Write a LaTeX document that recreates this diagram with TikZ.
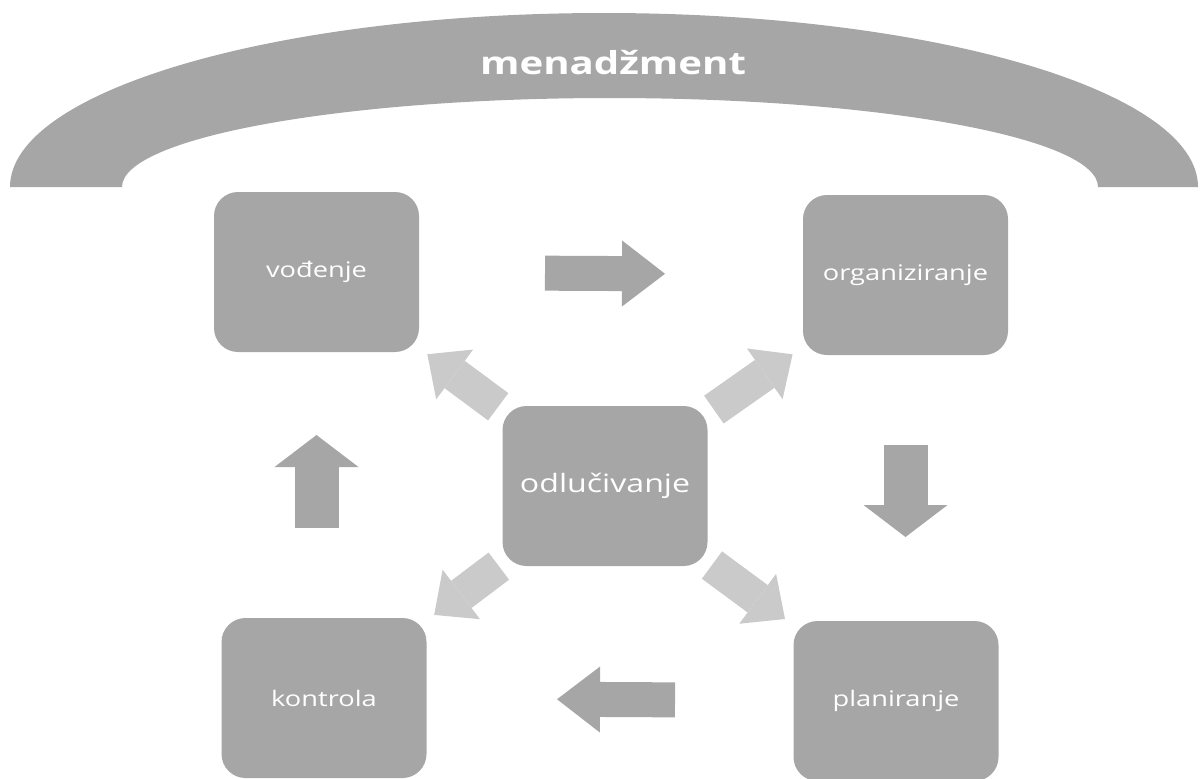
\documentclass[tikz,border=0pt]{standalone}
\usepackage{fontspec}
\newfontfamily\diagfont[FakeStretch=1.27]{Open Sans}
\usepackage{tikz}
\usetikzlibrary{arrows.meta}
\definecolor{boxgray}{RGB}{166,166,166}
\definecolor{pale}{RGB}{202,202,202}
\tikzset{
    phase/.style={rectangle, rounded corners=0.24cm, minimum width=2.05cm, minimum height=1.6cm, align=center, fill=boxgray, text=white, font=\diagfont\fontsize{6.1}{7}\selectfont},
    hflow/.style={boxgray, line width=0.35cm, -{Triangle[width=0.66cm, length=0.43cm, line width=0pt]}},
    vflow/.style={boxgray, line width=0.44cm, -{Triangle[width=0.84cm, length=0.32cm, line width=0pt]}},
    decision/.style={pale, line width=0.34cm, -{Triangle[width=0.62cm, length=0.34cm, line width=0pt]}, shorten <=1.33cm, shorten >=1.38cm}
}
\begin{document}
\begin{tikzpicture}
    \useasboundingbox (0,0) rectangle (12.02,7.78);

    % arch over the whole cycle
    \fill[boxgray] (0.10,5.91) arc[start angle=180, end angle=0, x radius=5.94cm, y radius=1.74cm]
        -- (10.98,5.91) arc[start angle=0, end angle=180, x radius=4.88cm, y radius=0.89cm] -- cycle;
    \node[text=white, font=\diagfont\bfseries\fontsize{9}{11}\selectfont] (mgmt) at (6.13,7.15) {menadžment};

    % function boxes
    \node[phase] (vod) at (3.165,5.06) {vođenje};
    \node[phase] (org) at (9.055,5.03) {organiziranje};
    \node[phase, font=\diagfont\fontsize{7.2}{8}\selectfont] (odl) at (6.05,2.92) {odlučivanje};
    \node[phase] (kon) at (3.24,0.80) {kontrola};
    \node[phase] (pla) at (8.96,0.77) {planiranje};

    % cycle arrows
    \draw[hflow, shorten <=2.285cm, shorten >=2.405cm] (vod.center) -- (org.center);
    \draw[vflow, shorten <=1.70cm, shorten >=1.64cm] (org.center) -- (org.center |- pla.center);
    \draw[hflow, shorten <=2.21cm, shorten >=2.33cm] (pla.center) -- (kon.center);
    \draw[vflow, shorten <=1.70cm, shorten >=1.63cm] (vod.center |- kon.center) -- (vod.center);

    % decisions feed every function
    \draw[decision] (odl.center) -- (vod.center);
    \draw[decision] (odl.center) -- (org.center);
    \draw[decision] (odl.center) -- (kon.center);
    \draw[decision] (odl.center) -- (pla.center);
\end{tikzpicture}
\end{document}
